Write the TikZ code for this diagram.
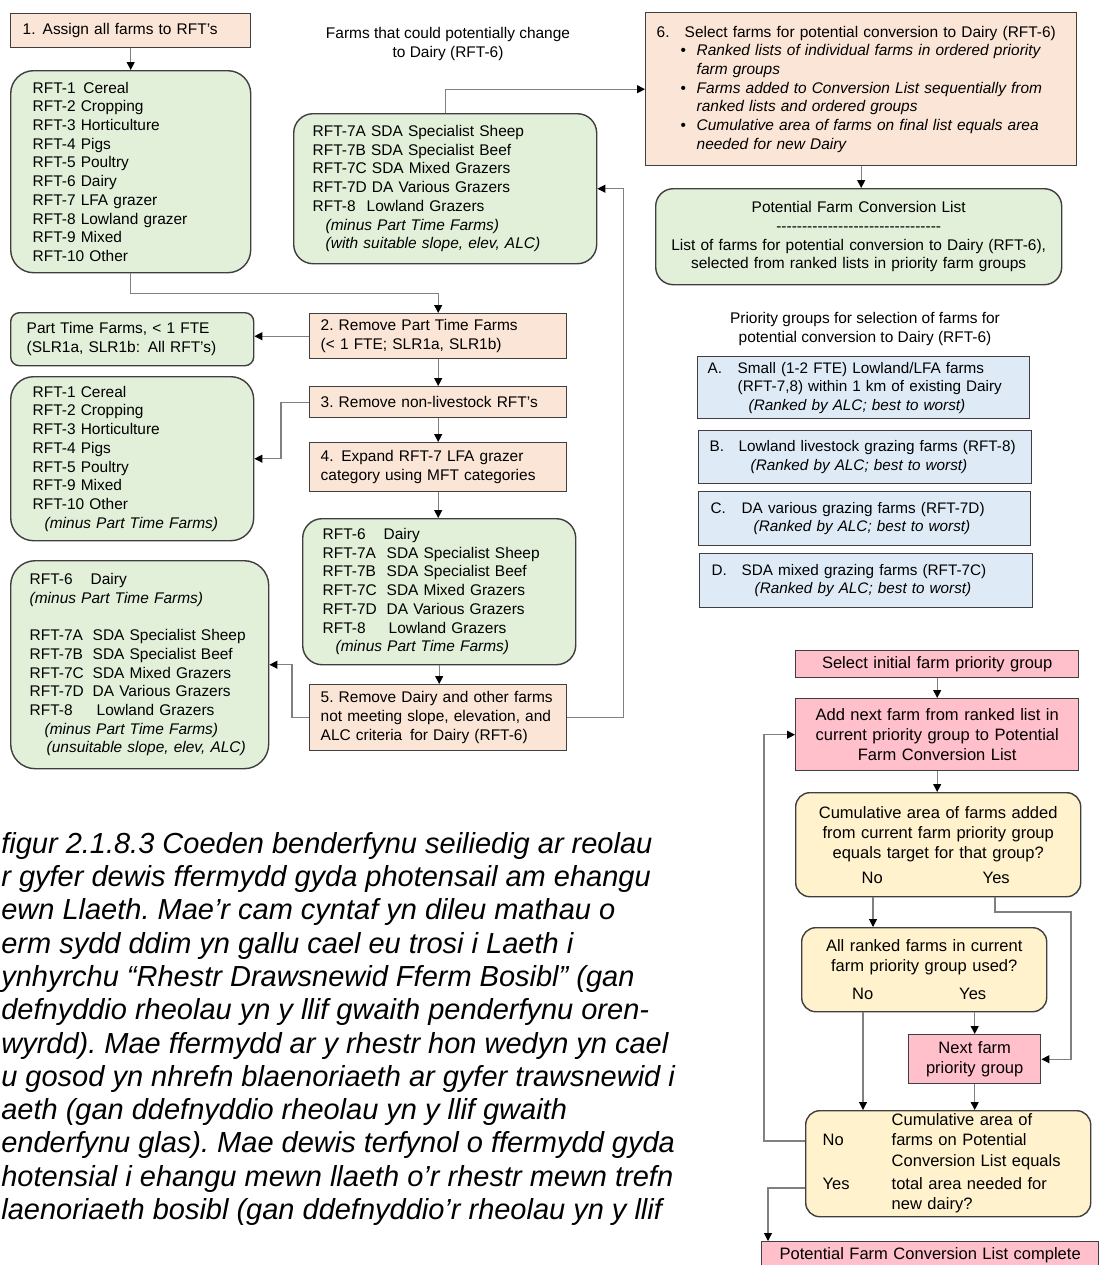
\documentclass[tikz,border=0pt]{standalone}
\usepackage{fontspec}
\setmainfont{Liberation Sans}
\usepackage{tikz}
\usepackage{xcolor}
\usetikzlibrary{arrows.meta}
\frenchspacing

\definecolor{peach}{HTML}{FBE5D6}
\definecolor{leaf}{HTML}{E2F0D9}
\definecolor{sky}{HTML}{DEEBF7}
\definecolor{cream}{HTML}{FFF2CC}
\definecolor{rose}{HTML}{FFC0CB}
\definecolor{edge}{HTML}{3F3F3F}
\definecolor{wire}{HTML}{808080}

\newdimen\pxu \pxu=0.02cm

\tikzset{
  box/.style={draw=edge, line width=0.8pt, inner ysep=0pt, anchor=north west},
  stepbox/.style={box, fill=peach, align=left, font=\fontsize{8.8}{10.65}\selectfont},
  listbox/.style={box, fill=leaf, rounded corners=13pt, align=left, font=\fontsize{8.8}{10.65}\selectfont},
  groupbox/.style={box, fill=sky, align=left, font=\fontsize{8.7}{10.5}\selectfont},
  testbox/.style={box, fill=cream, rounded corners=8pt, align=center, font=\fontsize{9.4}{11.5}\selectfont},
  actbox/.style={box, fill=rose, align=center, font=\fontsize{9.4}{11.5}\selectfont},
  note/.style={align=center, inner sep=0pt, font=\fontsize{8.8}{10.65}\selectfont},
  conn/.style={draw=wire, line width=0.6pt, -{Triangle[length=4.5pt,width=4.5pt,color=black]}},
}

\begin{document}
\begin{tikzpicture}[x=\pxu, y=-\pxu]
  \useasboundingbox (0,0) rectangle (1100,1265);
  \clip (0,0) rectangle (1100,1265);

  % left column: steps and farm lists
  \node[stepbox, minimum width=240\pxu, minimum height=34\pxu, inner xsep=12\pxu, text width=216\pxu] (b1) at (10,13)
    {\makebox[20\pxu][l]{1.}Assign all farms to RFT’s};
  \node[listbox, minimum width=240\pxu, minimum height=202\pxu, inner xsep=22\pxu, text width=196\pxu] (g1) at (10,70)
    {RFT-1\enspace Cereal\\RFT-2 Cropping\\RFT-3 Horticulture\\RFT-4 Pigs\\RFT-5 Poultry\\RFT-6 Dairy\\
     RFT-7 LFA grazer\\RFT-8 Lowland grazer\\RFT-9 Mixed\\RFT-10 Other};
  \node[note] (ttl) at (448,44) {Farms that could potentially change\\to Dairy (RFT-6)};
  \node[listbox, rounded corners=11pt, minimum width=303\pxu, minimum height=150\pxu, inner xsep=19\pxu, text width=265\pxu] (g7) at (293,113)
    {RFT-7A SDA Specialist Sheep\\RFT-7B SDA Specialist Beef\\RFT-7C SDA Mixed Grazers\\RFT-7D DA Various Grazers\\
     \makebox[54\pxu][l]{RFT-8}Lowland Grazers\\
     \hspace*{13\pxu}\textit{(minus Part Time Farms)}\\
     \hspace*{13\pxu}\textit{(with suitable slope, elev, ALC)}};

  \node[stepbox, minimum width=257\pxu, minimum height=45\pxu, inner xsep=11\pxu, text width=235\pxu] (s2) at (309,313)
    {2. Remove Part Time Farms\\(< 1 FTE; SLR1a, SLR1b)};
  \node[listbox, rounded corners=5pt, minimum width=243\pxu, minimum height=53\pxu, inner xsep=16\pxu, text width=211\pxu] (pt) at (10,312)
    {Part Time Farms, < 1 FTE\\(SLR1a, SLR1b:\enspace All RFT’s)};
  \node[stepbox, minimum width=257\pxu, minimum height=31\pxu, inner xsep=11\pxu, text width=235\pxu] (s3) at (309,386)
    {3. Remove non-livestock RFT’s};
  \node[listbox, minimum width=243\pxu, minimum height=164\pxu, inner xsep=22\pxu, text width=199\pxu] (g2) at (10,376)
    {RFT-1 Cereal\\RFT-2 Cropping\\RFT-3 Horticulture\\RFT-4 Pigs\\RFT-5 Poultry\\RFT-9 Mixed\\RFT-10 Other\\
     \hspace*{12\pxu}\textit{(minus Part Time Farms)}};
  \node[stepbox, minimum width=257\pxu, minimum height=49\pxu, inner xsep=11\pxu, text width=235\pxu] (s4) at (309,442)
    {4.\enspace Expand RFT-7 LFA grazer\\category using MFT categories};
  \node[listbox, rounded corners=11pt, minimum width=273\pxu, minimum height=146\pxu, inner xsep=20\pxu, text width=233\pxu] (g3) at (302,518)
    {\makebox[61\pxu][l]{RFT-6}Dairy\\\makebox[64\pxu][l]{RFT-7A}SDA Specialist Sheep\\
     \makebox[64\pxu][l]{RFT-7B}SDA Specialist Beef\\\makebox[64\pxu][l]{RFT-7C}SDA Mixed Grazers\\
     \makebox[64\pxu][l]{RFT-7D}DA Various Grazers\\\makebox[66\pxu][l]{RFT-8}Lowland Grazers\\
     \hspace*{13\pxu}\textit{(minus Part Time Farms)}};
  \node[stepbox, minimum width=257\pxu, minimum height=66\pxu, inner xsep=11\pxu, text width=235\pxu] (s5) at (309,684)
    {5. Remove Dairy and other farms\\not meeting slope, elevation, and\\ALC criteria\enspace for Dairy (RFT-6)};
  \node[listbox, rounded corners=14pt, minimum width=258\pxu, minimum height=208\pxu, inner xsep=19\pxu, text width=220\pxu] (g4) at (10,560)
    {\makebox[61\pxu][l]{RFT-6}Dairy\\\textit{(minus Part Time Farms)}\\[10.65pt]
     \makebox[63\pxu][l]{RFT-7A}SDA Specialist Sheep\\\makebox[63\pxu][l]{RFT-7B}SDA Specialist Beef\\
     \makebox[63\pxu][l]{RFT-7C}SDA Mixed Grazers\\\makebox[63\pxu][l]{RFT-7D}DA Various Grazers\\
     \makebox[67\pxu][l]{RFT-8}Lowland Grazers\\
     \hspace*{15\pxu}\textit{(minus Part Time Farms)}\\
     \hspace*{17\pxu}\textit{(unsuitable slope, elev, ALC)}};

  % right column: selection and priority groups
  \node[stepbox, minimum width=431\pxu, minimum height=153\pxu, inner xsep=11\pxu, text width=409\pxu] (s6) at (645,12)
    {\makebox[28\pxu][l]{6.}Select farms for potential conversion to Dairy (RFT-6)\\
     \hspace*{24\pxu}\makebox[16\pxu][l]{•}\textit{Ranked lists of individual farms in ordered priority}\\
     \hspace*{40\pxu}\textit{farm groups}\\
     \hspace*{24\pxu}\makebox[16\pxu][l]{•}\textit{Farms added to Conversion List sequentially from}\\
     \hspace*{40\pxu}\textit{ranked lists and ordered groups}\\
     \hspace*{24\pxu}\makebox[16\pxu][l]{•}\textit{Cumulative area of farms on final list equals area}\\
     \hspace*{40\pxu}\textit{needed for new Dairy}};
  \node[listbox, rounded corners=10pt, align=center, minimum width=406\pxu, minimum height=96\pxu, inner xsep=10\pxu, text width=386\pxu] (pfcl) at (655,188)
    {Potential Farm Conversion List\\\foreach \k in {1,...,32}{\mbox{-}}\\
     List of farms for potential conversion to Dairy (RFT-6),\\selected from ranked lists in priority farm groups};

  \node[note] (ptl) at (865,329) {Priority groups for selection of farms for\\potential conversion to Dairy (RFT-6)};
  \node[groupbox, minimum width=332\pxu, minimum height=62\pxu, inner xsep=10\pxu, text width=312\pxu] (ga) at (697,356)
    {\makebox[30\pxu][l]{A.}Small (1-2 FTE) Lowland/LFA farms\\\hspace*{30\pxu}(RFT-7,8) within 1 km of existing Dairy\\
     \hspace*{41\pxu}\textit{(Ranked by ALC; best to worst)}};
  \node[groupbox, minimum width=333\pxu, minimum height=53\pxu, inner xsep=11\pxu, text width=311\pxu] (gb) at (698,430)
    {\makebox[29\pxu][l]{B.}Lowland livestock grazing farms (RFT-8)\\\hspace*{41\pxu}\textit{(Ranked by ALC; best to worst)}};
  \node[groupbox, minimum width=332\pxu, minimum height=54\pxu, inner xsep=12\pxu, text width=308\pxu] (gc) at (698,491)
    {\makebox[31\pxu][l]{C.}DA various grazing farms (RFT-7D)\\\hspace*{43\pxu}\textit{(Ranked by ALC; best to worst)}};
  \node[groupbox, minimum width=333\pxu, minimum height=54\pxu, inner xsep=12\pxu, text width=309\pxu] (gd) at (699,553)
    {\makebox[30\pxu][l]{D.}SDA mixed grazing farms (RFT-7C)\\\hspace*{43\pxu}\textit{(Ranked by ALC; best to worst)}};

  % selection loop
  \node[actbox, minimum width=283\pxu, minimum height=27\pxu, inner xsep=5\pxu, text width=273\pxu] (p1) at (795,650)
    {Select initial farm priority group};
  \node[actbox, minimum width=283\pxu, minimum height=72\pxu, inner xsep=5\pxu, text width=273\pxu] (p2) at (795,698)
    {Add next farm from ranked list in\\current priority group to Potential\\Farm Conversion List};
  \node[testbox, minimum width=285\pxu, minimum height=104\pxu, inner xsep=5\pxu, text width=275\pxu] (y1) at (795,792)
    {Cumulative area of farms added\\from current farm priority group\\equals target for that group?\\[2.5pt]
     \makebox[116\pxu]{No}\makebox[132\pxu]{Yes}};
  \node[testbox, minimum width=245\pxu, minimum height=84\pxu, inner xsep=5\pxu, text width=235\pxu] (y2) at (801,927)
    {All ranked farms in current\\farm priority group used?\\[4.5pt]
     \makebox[97\pxu]{No}\makebox[123\pxu]{Yes}};
  \node[actbox, minimum width=132\pxu, minimum height=49\pxu, inner xsep=5\pxu, text width=122\pxu] (nextg) at (908,1034)
    {Next farm\\priority group};
  \node[testbox, align=left, minimum width=285\pxu, minimum height=106\pxu, inner xsep=17\pxu, text width=251\pxu] (y3) at (805,1110)
    {\noindent\begin{tabular}{@{}p{69\pxu}@{}l@{}}
       & Cumulative area of\\No & farms on Potential\\ & Conversion List equals\\[2pt]Yes & total area needed for\\ & new dairy?
     \end{tabular}};
  \node[actbox, minimum width=337\pxu, minimum height=28\pxu, inner xsep=5\pxu, text width=327\pxu] (done) at (761,1241)
    {Potential Farm Conversion List complete};

  % caption
  \node[anchor=north west, inner sep=0pt, align=left, font=\fontsize{16.5}{18.94}\selectfont\itshape] (cap) at (1,832)
    {figur 2.1.8.3 Coeden benderfynu seiliedig ar reolau\\
     r gyfer dewis ffermydd gyda photensail am ehangu\\
     ewn Llaeth. Mae'r cam cyntaf yn dileu mathau o\\
     erm sydd ddim yn gallu cael eu trosi i Laeth i\\
     ynhyrchu “Rhestr Drawsnewid Fferm Bosibl” (gan\\
     defnyddio rheolau yn y llif gwaith penderfynu oren-\\
     wyrdd). Mae ffermydd ar y rhestr hon wedyn yn cael\\
     u gosod yn nhrefn blaenoriaeth ar gyfer trawsnewid i\\
     aeth (gan ddefnyddio rheolau yn y llif gwaith\\
     enderfynu glas). Mae dewis terfynol o ffermydd gyda\\
     hotensial i ehangu mewn llaeth o'r rhestr mewn trefn\\
     laenoriaeth bosibl (gan ddefnyddio'r rheolau yn y llif};

  % connectors, left
  \draw[conn] (b1.south) -- (g1.north);
  \draw[conn] (g1.south) -- ++(0,20) -| (s2.north);
  \draw[conn] (s2.west) -- (s2.west -| pt.east);
  \draw[conn] (s2.south) -- (s3.north);
  \draw[conn] (s3.west) -- ++(-28,0) |- (g2.east);
  \draw[conn] (s3.south) -- (s4.north);
  \draw[conn] (s4.south) -- (s4.south |- g3.north);
  \draw[conn] (g3.south) -- (g3.south |- s5.north);
  \draw[conn] (s5.west) -- ++(-17,0) |- (g4.east);
  \draw[conn] (s5.east) -- ++(56,0) |- (g7.east);
  \draw[conn] (g7.north) |- (s6.west);
  \draw[conn] (s6.south) -- (s6.south |- pfcl.north);

  % connectors, right
  \coordinate (noA) at (873,0);
  \coordinate (yesA) at (995,0);
  \coordinate (noB) at (863,0);
  \coordinate (turnA) at (1071,912);
  \coordinate (backL) at (764,1141);
  \coordinate (outL) at (768,1188);
  \draw[conn] (p1.south) -- (p2.north);
  \draw[conn] (p2.south) -- (p2.south |- y1.north);
  \draw[conn] (y1.south -| noA) -- (y2.north -| noA);
  \draw[conn] (y1.south -| yesA) |- (turnA) |- (nextg.east);
  \draw[conn] (y2.south -| noB) -- (y3.north -| noB);
  \draw[conn] (nextg.north |- y2.south) -- (nextg.north);
  \draw[conn] (nextg.south) -- (nextg.south |- y3.north);
  \draw[conn] (y3.west |- backL) -- (backL) |- (p2.west);
  \draw[conn] (y3.west |- outL) -- (outL) -- (outL |- done.north);
\end{tikzpicture}
\end{document}
